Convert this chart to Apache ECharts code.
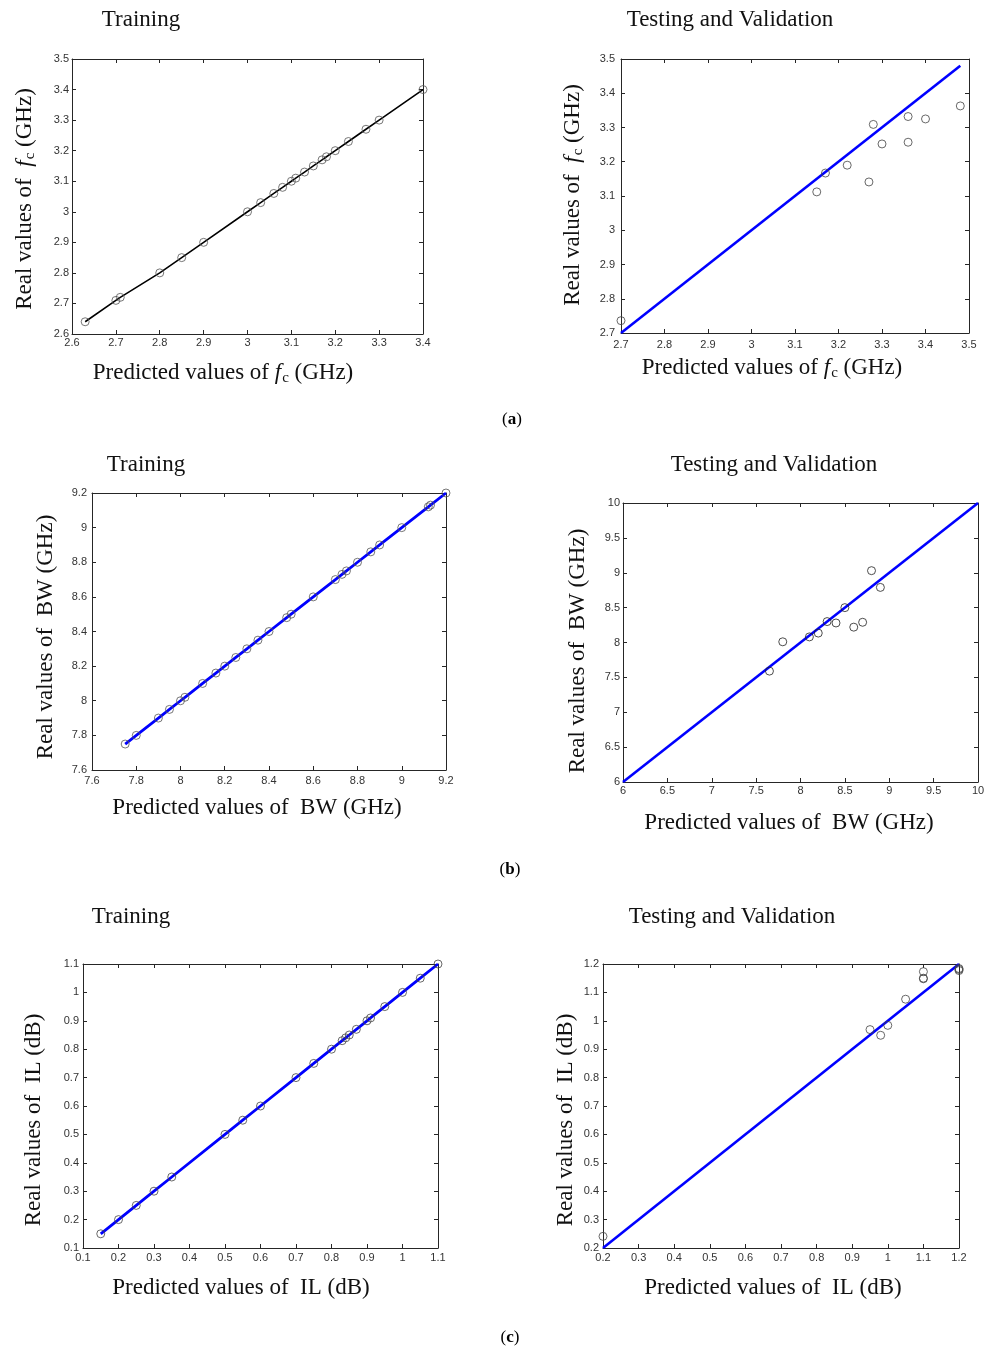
<!DOCTYPE html>
<html><head><meta charset="utf-8">
<script src="https://cdn.jsdelivr.net/npm/echarts@6/dist/echarts.min.js"></script>
<style>html,body{margin:0;padding:0;background:#fff}#c{width:994px;height:1350px}</style>
</head><body><div id="c"></div>
<script>
// ---------------- data ----------------
const fcTrainPred = [2.63, 2.70, 2.71, 2.80, 2.85, 2.90, 3.00, 3.03, 3.06, 3.08, 3.10, 3.11, 3.13, 3.15, 3.17, 3.18, 3.20, 3.23, 3.27, 3.30, 3.40];
const fcTrainReal = [2.64, 2.71, 2.72, 2.80, 2.85, 2.90, 3.00, 3.03, 3.06, 3.08, 3.10, 3.11, 3.13, 3.15, 3.17, 3.18, 3.20, 3.23, 3.27, 3.30, 3.40];
const fcTestPred = [2.70, 3.15, 3.17, 3.22, 3.27, 3.28, 3.30, 3.36, 3.36, 3.40, 3.48];
const fcTestReal = [2.736, 3.112, 3.167, 3.19, 3.141, 3.309, 3.252, 3.332, 3.257, 3.325, 3.363];
const fcTestLine = [2.7, 3.48];

const bwTrainPred = [7.75, 7.80, 7.90, 7.95, 8.00, 8.02, 8.10, 8.16, 8.20, 8.25, 8.30, 8.35, 8.40, 8.48, 8.50, 8.60, 8.70, 8.73, 8.75, 8.80, 8.86, 8.90, 9.00, 9.12, 9.13, 9.20];
const bwTrainReal = [7.75, 7.80, 7.90, 7.95, 8.00, 8.02, 8.10, 8.16, 8.20, 8.25, 8.30, 8.35, 8.40, 8.48, 8.50, 8.60, 8.70, 8.73, 8.75, 8.80, 8.86, 8.90, 9.00, 9.12, 9.13, 9.20];
const bwTestPred = [7.65, 7.80, 8.10, 8.20, 8.30, 8.40, 8.50, 8.60, 8.70, 8.80, 8.90];
const bwTestReal = [7.59, 8.01, 8.08, 8.135, 8.30, 8.28, 8.50, 8.22, 8.29, 9.03, 8.79];
const bwTestLine = [6, 10];

const ilTrainPred = [0.15, 0.20, 0.25, 0.30, 0.35, 0.50, 0.55, 0.60, 0.70, 0.75, 0.80, 0.83, 0.84, 0.85, 0.87, 0.90, 0.91, 0.95, 1.00, 1.05, 1.10];
const ilTrainReal = [0.15, 0.20, 0.25, 0.30, 0.35, 0.50, 0.55, 0.60, 0.70, 0.75, 0.80, 0.83, 0.84, 0.85, 0.87, 0.90, 0.91, 0.95, 1.00, 1.05, 1.10];
const ilTestPred = [0.20, 0.95, 0.98, 1.00, 1.05, 1.10, 1.10, 1.10, 1.20, 1.20, 1.20];
const ilTestReal = [0.241, 0.969, 0.949, 0.984, 1.076, 1.173, 1.148, 1.150, 1.184, 1.177, 1.181];
const ilTestLine = [0.2, 1.2];

// axis ranges [min, max, tick step]
const fcTrainX = [2.6, 3.4, 0.1], fcTrainY = [2.6, 3.5, 0.1];
const fcTestX = [2.7, 3.5, 0.1], fcTestY = [2.7, 3.5, 0.1];
const bwTrainX = [7.6, 9.2, 0.2], bwTrainY = [7.6, 9.2, 0.2];
const bwTestX = [6, 10, 0.5], bwTestY = [6, 10, 0.5];
const ilTrainX = [0.1, 1.1, 0.1], ilTrainY = [0.1, 1.1, 0.1];
const ilTestX = [0.2, 1.2, 0.1], ilTestY = [0.2, 1.2, 0.1];

const panelTitles = ['Training', 'Testing and Validation'];
const partLabels = ['a', 'b', 'c'];

// ---------------- layout ----------------
const grids = [
  {left: 72, top: 59, width: 351, height: 275},
  {left: 621, top: 59, width: 348, height: 274},
  {left: 92, top: 493, width: 354, height: 277},
  {left: 623, top: 503, width: 355, height: 279},
  {left: 83, top: 964, width: 355, height: 284},
  {left: 603, top: 964, width: 356, height: 284}
];
const panels = [
  {x: fcTrainX, y: fcTrainY, pred: fcTrainPred, real: fcTrainReal, line: null, lineColor: '#000', lineW: 1.6, mk: '#555', labMargin: 3},
  {x: fcTestX, y: fcTestY, pred: fcTestPred, real: fcTestReal, line: fcTestLine, lineColor: '#0000ff', lineW: 2.6, mk: '#444', labMargin: 6},
  {x: bwTrainX, y: bwTrainY, pred: bwTrainPred, real: bwTrainReal, line: null, lineColor: '#0000ff', lineW: 2.8, mk: '#555', labMargin: 5},
  {x: bwTestX, y: bwTestY, pred: bwTestPred, real: bwTestReal, line: bwTestLine, lineColor: '#0000ff', lineW: 2.6, mk: '#222', labMargin: 3},
  {x: ilTrainX, y: ilTrainY, pred: ilTrainPred, real: ilTrainReal, line: null, lineColor: '#0000ff', lineW: 2.8, mk: '#444', labMargin: 4},
  {x: ilTestX, y: ilTestY, pred: ilTestPred, real: ilTestReal, line: ilTestLine, lineColor: '#0000ff', lineW: 2.6, mk: '#444', labMargin: 4}
];

const AX = '#262626';
const tickFont = {fontFamily: 'Liberation Sans, Arial, sans-serif', fontSize: 11, color: '#333'};
const xAxes = [], yAxes = [], series = [];
panels.forEach((p, i) => {
  const common = (r) => ({type: 'value', gridIndex: i, min: r[0], max: r[1], interval: r[2], splitLine: {show: false},
    axisLine: {show: true, onZero: false, lineStyle: {color: AX, width: 1}},
    axisTick: {show: true, inside: true, length: 4, lineStyle: {color: AX}}});
  xAxes.push(Object.assign(common(p.x), {position: 'bottom', axisLabel: Object.assign({margin: p.labMargin, showMinLabel: true, showMaxLabel: true}, tickFont)}));
  xAxes.push(Object.assign(common(p.x), {position: 'top', axisLabel: {show: false}}));
  yAxes.push(Object.assign(common(p.y), {position: 'left', axisLabel: Object.assign({margin: p.labMargin, showMinLabel: true, showMaxLabel: true}, tickFont)}));
  yAxes.push(Object.assign(common(p.y), {position: 'right', axisLabel: {show: false}}));
  const xi = 2 * i, yi = 2 * i;
  const pts = p.pred.map((v, k) => [v, p.real[k]]);
  const lineData = p.line ? p.line.map(v => [v, v]) : pts;
  series.push({type: 'line', xAxisIndex: xi, yAxisIndex: yi, data: lineData, showSymbol: false, silent: true,
    lineStyle: {color: p.lineColor, width: p.lineW}, z: 2, animation: false});
  series.push({type: 'scatter', xAxisIndex: xi, yAxisIndex: yi, data: pts, symbol: 'circle', symbolSize: 8,
    itemStyle: {color: 'rgba(0,0,0,0)', borderColor: p.mk, borderWidth: 1}, z: 3, animation: false});
});

// ---------------- texts ----------------
const serif = 'Liberation Serif, Times New Roman, serif';
const FS = 23;
const rich = {
  n: {fontFamily: serif, fontSize: FS, color: '#111'},
  i: {fontFamily: serif, fontSize: FS, fontStyle: 'italic', color: '#111'},
  s: {fontFamily: serif, fontSize: 15, color: '#111', padding: [11, 0, 0, 1]}
};
function txt(x, y, text, rot) {
  return {type: 'text', x: x, y: y, rotation: rot || 0, silent: true,
    style: {text: text, rich: rich, fontFamily: serif, fontSize: FS, fill: '#111', align: 'center', verticalAlign: 'middle'}};
}
const fcX = '{n|Predicted values of }{i|f}{s|c}{n| (GHz)}';
const fcY = '{n|Real values of  }{i|f}{s|c}{n| (GHz)}';
const bwX = '{n|Predicted values of  BW (GHz)}';
const bwY = '{n|Real values of  BW (GHz)}';
const ilX = '{n|Predicted values of  IL (dB)}';
const ilY = '{n|Real values of  IL (dB)}';
const R = Math.PI / 2;
const graphics = [
  txt(141, 20, '{n|' + panelTitles[0] + '}'), txt(730, 20, '{n|' + panelTitles[1] + '}'),
  txt(146, 465, '{n|' + panelTitles[0] + '}'), txt(774, 465, '{n|' + panelTitles[1] + '}'),
  txt(131, 917, '{n|' + panelTitles[0] + '}'), txt(732, 917, '{n|' + panelTitles[1] + '}'),
  txt(223, 373, fcX), txt(772, 368, fcX), txt(25, 199, fcY, R), txt(573, 195, fcY, R),
  txt(257, 808, bwX), txt(789, 823, bwX), txt(46, 637, bwY, R), txt(578, 651, bwY, R),
  txt(241, 1288, ilX), txt(773, 1288, ilX), txt(34, 1120, ilY, R), txt(566, 1120, ilY, R)
];
[[512, 420], [510, 870], [510, 1338]].forEach((pos, k) => {
  graphics.push({type: 'text', x: pos[0], y: pos[1], silent: true,
    style: {text: '{p|(}{b|' + partLabels[k] + '}{p|)}', align: 'center', verticalAlign: 'middle',
      rich: {p: {fontFamily: serif, fontSize: 17, color: '#111'}, b: {fontFamily: serif, fontSize: 17, fontWeight: 'bold', color: '#111'}}}});
});

const chart = echarts.init(document.getElementById('c'), null, {renderer: 'canvas'});
chart.setOption({
  backgroundColor: '#fff',
  animation: false,
  grid: grids.map(g => Object.assign({containLabel: false}, g)),
  xAxis: xAxes,
  yAxis: yAxes,
  series: series,
  graphic: graphics
});
</script></body></html>
